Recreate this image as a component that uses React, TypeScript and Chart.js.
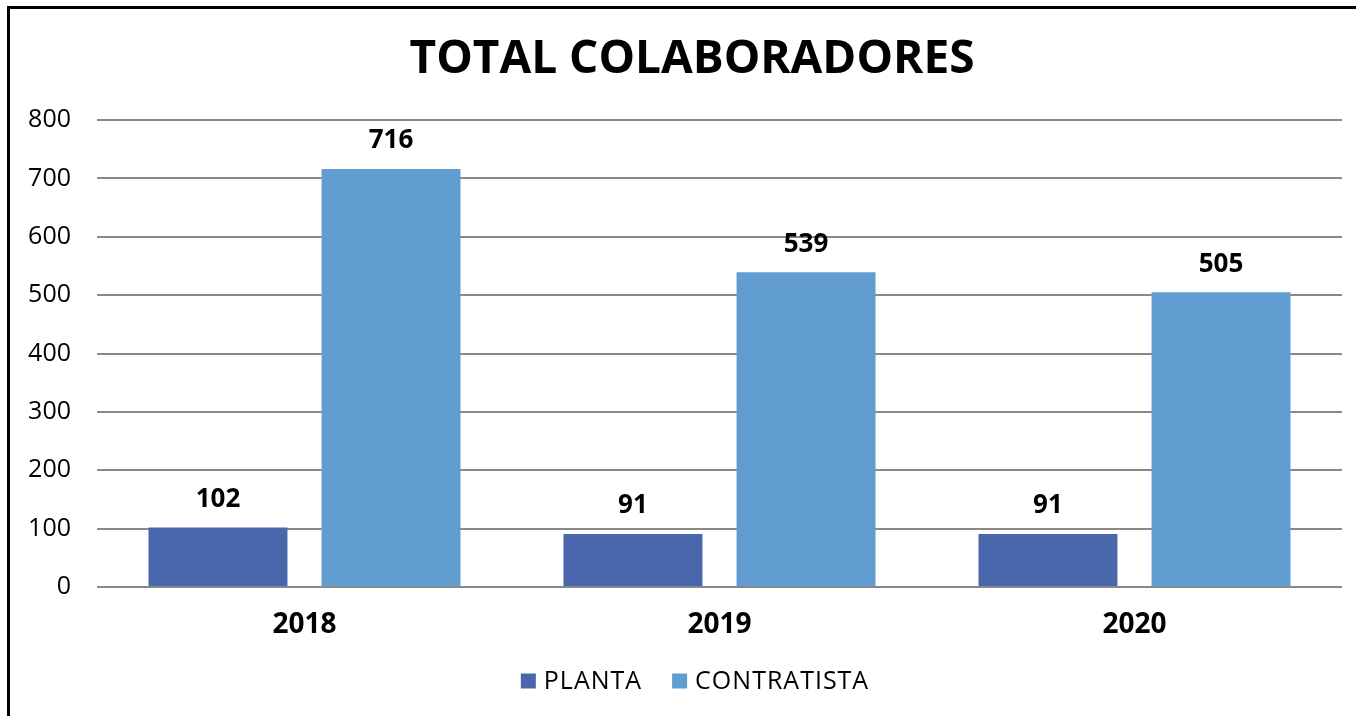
import React, { useEffect, useRef } from "react";
import { Chart, registerables } from "chart.js";

Chart.register(...registerables);

const categories = ["2018", "2019", "2020"];
const plantaValues = [102, 91, 91];
const contratistaValues = [716, 539, 505];
const seriesNames = ["PLANTA", "CONTRATISTA"];
const seriesColors = ["#4A66AC", "#629DD1"];
const titleText = "TOTAL COLABORADORES";
const yMax = 800;
const yStep = 100;

const FONT = "'Open Sans', 'DejaVu Sans', sans-serif";

const valueLabels = {
  id: "valueLabels",
  afterDatasetsDraw(chart: any) {
    const ctx = chart.ctx;
    ctx.save();
    ctx.font = `bold 26px ${FONT}`;
    ctx.fillStyle = "#000";
    ctx.textAlign = "center";
    ctx.textBaseline = "middle";
    chart.data.datasets.forEach((ds: any, di: number) => {
      const meta = chart.getDatasetMeta(di);
      meta.data.forEach((bar: any, i: number) => {
        ctx.fillText(String(ds.data[i]), bar.x, bar.y - 28);
      });
    });
    ctx.restore();
  },
};

// Title and legend, centred on the full (wider, cropped) chart frame
const frameDecor = {
  id: "frameDecor",
  afterDraw(chart: any) {
    const ctx = chart.ctx;
    ctx.save();
    ctx.fillStyle = "#000";
    ctx.textAlign = "center";
    ctx.textBaseline = "middle";
    ctx.font = `bold 46px ${FONT}`;
    ctx.fillText(titleText, 692, 60);

    // legend
    ctx.font = `25px ${FONT}`;
    (ctx as any).letterSpacing = "1px";
    const box = 15;
    const gapText = 8;
    const gapItem = 30;
    const items = chart.data.datasets.map((ds: any) => ({
      label: ds.label,
      color: ds.backgroundColor,
      w: ctx.measureText(ds.label).width,
    }));
    let total = 0;
    items.forEach((it: any, i: number) => {
      total += box + gapText + it.w + (i < items.length - 1 ? gapItem : 0);
    });
    let x = 695 - total / 2;
    const cy = 681;
    ctx.textAlign = "left";
    items.forEach((it: any) => {
      ctx.fillStyle = it.color;
      ctx.fillRect(x, cy - box / 2, box, box);
      x += box + gapText;
      ctx.fillStyle = "#000";
      ctx.fillText(it.label, x, cy + 1);
      x += it.w + gapItem;
    });
    ctx.restore();
  },
};

export default function App() {
  const ref = useRef<HTMLCanvasElement>(null);
  useEffect(() => {
    const chart = new Chart(ref.current!, {
      type: "bar",
      data: {
        labels: categories,
        datasets: [
          {
            label: seriesNames[0],
            data: plantaValues,
            backgroundColor: seriesColors[0],
            categoryPercentage: 0.834,
            barPercentage: 0.803,
          },
          {
            label: seriesNames[1],
            data: contratistaValues,
            backgroundColor: seriesColors[1],
            categoryPercentage: 0.834,
            barPercentage: 0.803,
          },
        ],
      },
      options: {
        responsive: false,
        animation: false,
        layout: { padding: { left: 0, right: 14, top: 120, bottom: 57 } },
        plugins: {
          tooltip: { enabled: false },
          title: { display: false },
          legend: { display: false },
        },
        scales: {
          x: {
            grid: { display: false },
            border: { display: false },
            ticks: {
              color: "#000",
              font: { family: FONT, size: 28, weight: "bold" },
              padding: 13,
            },
            afterFit(scale: any) {
              scale.height = 72;
            },
          },
          y: {
            min: 0,
            max: yMax,
            grid: { color: "#898989", lineWidth: 2, drawTicks: false },
            border: { display: false },
            ticks: {
              stepSize: yStep,
              color: "#000",
              font: { family: FONT, size: 25 },
              padding: 26,
            },
            afterFit(scale: any) {
              scale.width = 97;
            },
          },
        },
      },
      plugins: [valueLabels, frameDecor],
    });
    return () => chart.destroy();
  }, []);

  return (
    <div
      style={{
        position: "fixed",
        left: 0,
        top: 0,
        width: 1356,
        height: 716,
        overflow: "hidden",
        background: "#fff",
      }}
    >
      <div
        style={{
          position: "absolute",
          left: 7,
          top: 6,
          width: 1400,
          height: 800,
          border: "3px solid #000",
          boxSizing: "border-box",
        }}
      />
      <canvas
        ref={ref}
        width={1356}
        height={716}
        style={{ position: "absolute", left: 0, top: 0 }}
      />
    </div>
  );
}
